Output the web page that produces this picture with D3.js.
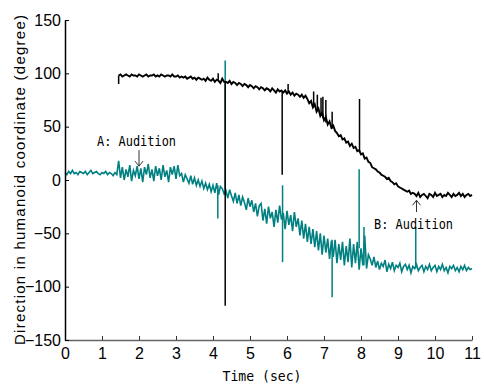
<!DOCTYPE html>
<html><head><meta charset="utf-8">
<script src="https://cdn.jsdelivr.net/npm/d3@7"></script>
<style>body{margin:0;background:#fff}</style>
</head><body>
<svg id="c" width="484" height="385"></svg>
<script>
// ---- data ----
const xTicks = [0,1,2,3,4,5,6,7,8,9,10,11];
const yTicks = [-150,-100,-50,0,50,100,150];
const step = 0.05;
const tealStart = 0;
const tealValues = [
 7,5,8,6,9,6,7,5,8,7,6,8,5,7,9,6,7,8,6,5,7,6,8,5,7,6,4,7,5,
 18,2,12,0,10,3,14,-1,9,4,13,1,11,-2,12,5,15,2,10,-1,13,4,11,0,14,3,9,-2,12,5,13,1,14,4,
 6,-2,5,1,-3,4,-4,2,-5,0,-6,-1,-8,-3,-9,-4,-11,-5,-12,-3,-14,-6,-8,-13,-10,-17,-9,-15,-20,-12,
 -22,-14,-24,-16,-21,-28,-17,-25,-19,-30,-22,-34,-24,
 -22,-38,-27,-41,-25,-36,-30,-44,-28,-40,-24,-37,-31,-46,-29,-42,-33,-48,-30,-44,
 -36,-52,-38,-55,-41,-58,-44,-60,-46,-63,-48,-66,-50,-70,-52,-68,-55,-74,-57,-72,
 -56,-78,-60,-75,-58,-80,-62,-77,-55,-82,-60,-78,-58,-84,-64,-80,-52,-83,-70,
 -74,-80,-72,-82,-76,-84,-78,-81,-75,-86,-79,-83,-77,-85,-80,-82,-78,-86,-81,-79,
 -84,-80,-87,-81,-83,-79,-85,-82,-80,-86,-81,-84,-79,-85,-82,-80,-86,-81,-84,-79,
 -85,-82,-87,-81,-83,-80,-85,-82,-86,-81,-84,-80,-85,-82,-84,-83
];
const blackStart = 1.45;
const blackValues = [
 98,99,97,98,99,98,97,99,98,98,97,99,98,97,98,99,97,98,98,99,97,98,97,99,98,97,98,98,97,99,97,
 97,98,96,97,96,97,95,96,97,95,96,94,96,95,94,95,93,96,94,93,95,92,94,93,91,95,92,
 92,91,93,90,92,91,89,91,90,88,90,89,87,89,88,86,88,87,85,87,86,84,86,85,83,86,84,82,85,83,84,
 82,84,81,83,80,82,79,81,80,78,80,77,79,
 76,72,74,68,71,64,67,60,63,56,59,52,55,49,51,46,
 44,41,42,38,39,35,36,32,34,30,31,27,28,24,25,20,21,17,16,12,
 11,10,8,7,5,4,3,1,2,-1,-2,-4,-3,-6,-7,-8,-9,-10,-11,-10,-13,-12,
 -13,-15,-12,-16,-14,-13,-15,-17,-13,-14,-16,-12,-15,-14,-13,-16,-14,-15,-12,-14,-16,-13,-15,-14,-12,-15,-13,-16,-14,-13,-15,-14
];
const tealSpikeT    = [4.13, 4.33, 5.88, 7.22, 7.95, 8.08, 9.48];
const tealSpikeFrom = [-5, -14, -77, -56, -64, -80, -83];
const tealSpikeTo   = [-36, 112, -5, -110, 10, -44, -44];
const blackSpikeT    = [1.45, 4.14, 4.33, 5.87, 6.03, 6.72, 6.82, 6.92, 6.97, 7.05, 7.22, 7.96];
const blackSpikeFrom = [98, 93, 92, 83, 82, 70, 66, 60, 58, 54, 48, 26];
const blackSpikeTo   = [90, 100, -118, 5, 90, 83, 80, 77, 78, 75, 64, 76];
const annotations = [
  {label:"A: Audition", t:2.0, vFrom:28, vTo:13, dir:"down"},
  {label:"B: Audition", t:9.5, vFrom:-30, vTo:-19, dir:"up"}
];
const xLabel = "Time (sec)";
const yLabel = "Direction in humanoid coordinate (degree)";

// ---- chart ----
const svg = d3.select("#c");
const x = d3.scaleLinear().domain([0,11]).range([65,472]);
const y = d3.scaleLinear().domain([-150,150]).range([340,20]);
const teal = "#008080";

const tealData = tealValues.map((v,i)=>[tealStart+i*step, v]);
const blackData = blackValues.map((v,i)=>[blackStart+i*step, v]);
const line = d3.line().x(d=>x(d[0])).y(d=>y(d[1]));

svg.append("path").datum(tealData).attr("d",line)
  .attr("fill","none").attr("stroke",teal).attr("stroke-width",1.6);
svg.append("g").selectAll("line").data(tealSpikeT).join("line")
  .attr("x1",d=>x(d)).attr("x2",d=>x(d))
  .attr("y1",(d,i)=>y(tealSpikeFrom[i])).attr("y2",(d,i)=>y(tealSpikeTo[i]))
  .attr("stroke",teal).attr("stroke-width",1.5);

svg.append("path").datum(blackData).attr("d",line)
  .attr("fill","none").attr("stroke","#000").attr("stroke-width",1.9);
svg.append("g").selectAll("line").data(blackSpikeT).join("line")
  .attr("x1",d=>x(d)).attr("x2",d=>x(d))
  .attr("y1",(d,i)=>y(blackSpikeFrom[i])).attr("y2",(d,i)=>y(blackSpikeTo[i]))
  .attr("stroke","#000").attr("stroke-width",1.5);

// axes
const gx = svg.append("g").attr("transform",`translate(0,${y(-150)})`)
  .call(d3.axisBottom(x).tickValues(xTicks).tickSizeInner(-4).tickSizeOuter(0).tickPadding(8));
gx.select(".domain").attr("stroke","#666").attr("stroke-width",1.5);
gx.selectAll(".tick line").attr("stroke","#333");
gx.selectAll("text").attr("font-family","Liberation Sans, Arial, sans-serif").attr("font-size",16).attr("fill","#000");

const gy = svg.append("g").attr("transform",`translate(${x(0)},0)`)
  .call(d3.axisLeft(y).tickValues(yTicks).tickSizeInner(-4).tickSizeOuter(0).tickPadding(4));
gy.select(".domain").attr("stroke","#000").attr("stroke-width",1.5);
gy.selectAll(".tick line").attr("stroke","#000");
gy.selectAll("text").attr("font-family","Liberation Sans, Arial, sans-serif").attr("font-size",16).attr("fill","#000");

// axis labels
svg.append("text").attr("x",262).attr("y",381).attr("text-anchor","middle")
  .attr("font-family","DejaVu Sans Mono, monospace").attr("font-size",14)
  .attr("textLength",79).attr("lengthAdjust","spacingAndGlyphs").text(xLabel);
svg.append("text").attr("transform","translate(25,180) rotate(-90)").attr("text-anchor","middle")
  .attr("font-family","Liberation Sans, Arial, sans-serif").attr("font-size",15)
  .attr("textLength",330).attr("lengthAdjust","spacing").text(yLabel);

// annotations
const ag = svg.append("g");
annotations.forEach(a=>{
  const ax = x(a.t);
  const y1 = y(a.vFrom), y2 = y(a.vTo);
  ag.append("line").attr("x1",ax).attr("x2",ax).attr("y1",y1).attr("y2",y2)
    .attr("stroke","#333").attr("stroke-width",1);
  const s = a.dir==="down" ? -1 : 1;
  ag.append("path").attr("d",`M${ax-4},${y2+s*5}L${ax},${y2}L${ax+4},${y2+s*5}`)
    .attr("fill","none").attr("stroke","#333").attr("stroke-width",1);
});
svg.append("text").attr("x",97).attr("y",146)
  .attr("font-family","DejaVu Sans Mono, monospace").attr("font-size",14)
  .attr("textLength",79).attr("lengthAdjust","spacingAndGlyphs").text(annotations[0].label);
svg.append("text").attr("x",374).attr("y",229)
  .attr("font-family","DejaVu Sans Mono, monospace").attr("font-size",14)
  .attr("textLength",79).attr("lengthAdjust","spacingAndGlyphs").text(annotations[1].label);
</script>
</body></html>
